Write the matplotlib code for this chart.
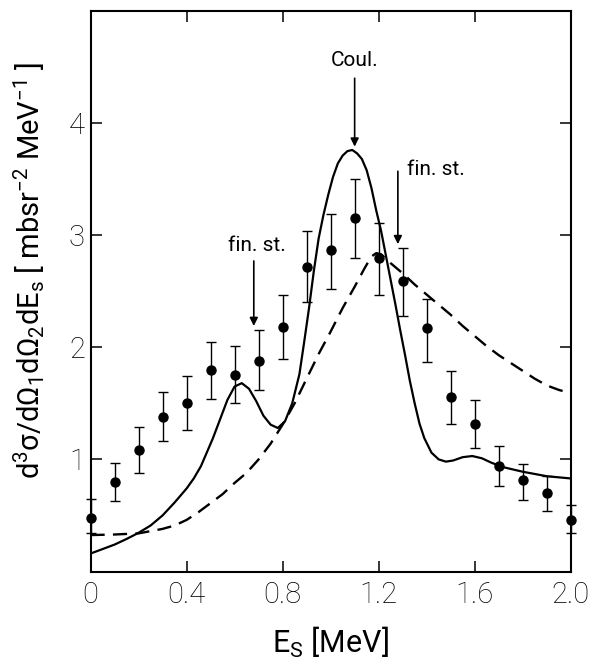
import matplotlib
matplotlib.use("Agg")
import numpy as np
import matplotlib.pyplot as plt

plt.rcParams["font.family"] = ["Roboto", "DejaVu Sans"]
plt.rcParams["font.weight"] = "light"
plt.rcParams["mathtext.default"] = "regular"

# ---- data points (E_s in MeV, cross section) ----
e_pts = [0.0, 0.1, 0.2, 0.3, 0.4, 0.5, 0.6, 0.7, 0.8, 0.9, 1.0,
         1.1, 1.2, 1.3, 1.4, 1.5, 1.6, 1.7, 1.8, 1.9, 2.0]
y_pts = [0.48, 0.80, 1.08, 1.38, 1.50, 1.80, 1.75, 1.88, 2.18, 2.72, 2.87,
         3.15, 2.80, 2.59, 2.17, 1.56, 1.32, 0.94, 0.82, 0.70, 0.46]
y_hi = [0.65, 0.97, 1.29, 1.60, 1.74, 2.05, 2.01, 2.15, 2.47, 3.04, 3.19,
        3.50, 3.11, 2.89, 2.43, 1.79, 1.53, 1.12, 0.96, 0.85, 0.59]
y_lo = [0.34, 0.63, 0.88, 1.16, 1.26, 1.54, 1.50, 1.62, 1.90, 2.40, 2.52,
        2.80, 2.47, 2.28, 1.87, 1.32, 1.10, 0.76, 0.64, 0.54, 0.34]

# ---- solid theory curve ----
solid_x = [0.00, 0.05, 0.10, 0.15, 0.20, 0.25, 0.30, 0.35, 0.40, 0.43, 0.46,
           0.48, 0.51, 0.54, 0.57, 0.60, 0.63, 0.66, 0.69, 0.72, 0.75, 0.78,
           0.81, 0.84, 0.87, 0.89, 0.91, 0.93, 0.95, 0.97, 0.99, 1.01, 1.03,
           1.05, 1.07, 1.09, 1.11, 1.13, 1.15, 1.17, 1.19, 1.21, 1.23, 1.25,
           1.27, 1.29, 1.31, 1.33, 1.35, 1.37, 1.39, 1.42, 1.45, 1.48, 1.51,
           1.55, 1.59, 1.63, 1.67, 1.72, 1.80, 1.90, 2.00]
solid_y = [0.16, 0.20, 0.24, 0.29, 0.345, 0.41, 0.50, 0.615, 0.74, 0.83, 0.94,
           1.04, 1.19, 1.36, 1.53, 1.65, 1.68, 1.63, 1.52, 1.39, 1.31, 1.28,
           1.34, 1.50, 1.76, 2.05, 2.35, 2.68, 2.97, 3.18, 3.36, 3.52, 3.64,
           3.71, 3.75, 3.76, 3.73, 3.68, 3.58, 3.42, 3.22, 3.04, 2.82, 2.60,
           2.38, 2.15, 1.93, 1.70, 1.50, 1.32, 1.19, 1.06, 1.00, 0.98, 0.99,
           1.02, 1.03, 1.01, 0.97, 0.93, 0.89, 0.85, 0.83]

# ---- dashed theory curve ----
dash_x = [0.00, 0.10, 0.20, 0.30, 0.35, 0.40, 0.45, 0.50, 0.55, 0.60, 0.65,
          0.70, 0.75, 0.80, 0.85, 0.90, 0.95, 1.00, 1.05, 1.10, 1.14, 1.17,
          1.19, 1.21, 1.25, 1.30, 1.35, 1.40, 1.45, 1.50, 1.55, 1.60, 1.65,
          1.70, 1.75, 1.80, 1.85, 1.90, 1.95, 2.00]
dash_y = [0.325, 0.33, 0.34, 0.38, 0.41, 0.46, 0.53, 0.61, 0.69, 0.79, 0.88,
          1.00, 1.14, 1.31, 1.50, 1.72, 1.94, 2.14, 2.35, 2.54, 2.70, 2.81,
          2.84, 2.83, 2.75, 2.66, 2.56, 2.47, 2.38, 2.29, 2.19, 2.10, 2.01,
          1.93, 1.86, 1.79, 1.72, 1.66, 1.62, 1.59]

# ---- annotations ----
arrow_labels = ["Coul.", "fin. st.", "fin. st."]
arrow_e = [1.10, 0.68, 1.28]

xticks = [0, 0.4, 0.8, 1.2, 1.6, 2.0]
xticklabels = ["0", "0.4", "0.8", "1.2", "1.6", "2.0"]
yticks = [1, 2, 3, 4]

fig = plt.figure(figsize=(5.92, 6.65), dpi=100)
ax = fig.add_axes([0.1529, 0.1406, 0.8112, 0.8429])

ax.plot(solid_x, solid_y, color="black", lw=1.6)
ax.plot(dash_x, dash_y, color="black", lw=1.7, dashes=(6, 3.5))

y_arr = np.array(y_pts)
yerr = [y_arr - np.array(y_lo), np.array(y_hi) - y_arr]
ax.errorbar(e_pts, y_pts, yerr=yerr, fmt="o", color="black", ms=6.5,
            elinewidth=1.0, capsize=3.5, capthick=1.0, clip_on=False, zorder=3)

# arrows: (tail, tip) heights
arrow_y = [(4.40, 3.79), (2.77, 2.19), (3.57, 2.92)]
for e, (y0, y1) in zip(arrow_e, arrow_y):
    ax.annotate("", xy=(e, y1), xytext=(e, y0),
                arrowprops=dict(arrowstyle="-|>", color="black", lw=1.2,
                                mutation_scale=12, shrinkA=0, shrinkB=0))
ax.text(arrow_e[0], 4.47, arrow_labels[0], ha="center", va="bottom",
        fontsize=15, fontweight="normal")
ax.text(0.695, 2.86, arrow_labels[1], ha="center", va="baseline",
        fontsize=15, fontweight="normal")
ax.text(1.32, 3.54, arrow_labels[2], ha="left", va="baseline",
        fontsize=15, fontweight="normal")

ax.set_xlim(0, 2.0)
ax.set_ylim(0, 5.0)
ax.set_xticks(xticks)
ax.set_xticklabels(xticklabels)
ax.set_yticks(yticks)
ax.tick_params(direction="in", length=8, width=1.1, top=True, right=True,
               labelsize=21)
ax.tick_params(axis="x", pad=7)
ax.tick_params(axis="y", pad=4)
for s in ax.spines.values():
    s.set_linewidth(1.5)

ax.set_xlabel(r"E$_S$ [MeV]", fontsize=22)
ax.xaxis.set_label_coords(0.5, -0.095)
ax.set_ylabel(r"d$^3\sigma$/d$\Omega_1$d$\Omega_2$dE$_s$ [ mbsr$^{-2}$ MeV$^{-1}$ ]",
              fontsize=21, fontweight="normal")
ax.yaxis.set_label_coords(-0.09, 0.537)

fig.savefig("out.png", dpi=100)
